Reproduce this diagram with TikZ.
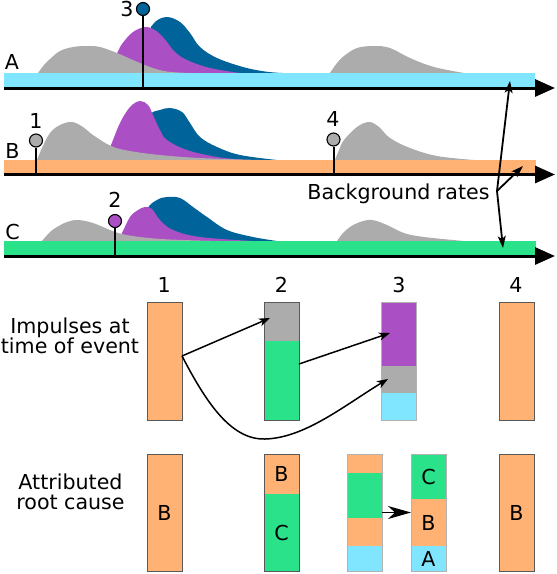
\documentclass[tikz,border=0pt]{standalone}
\usepackage{fontspec}
\setmainfont{DejaVu Sans}
\usetikzlibrary{arrows.meta}
\definecolor{cSky}{HTML}{80E5FF}
\definecolor{cOr}{HTML}{FFB273}
\definecolor{cGr}{HTML}{2AE28A}
\definecolor{cGy}{HTML}{ACACAC}
\definecolor{cPu}{HTML}{AA4FC4}
\definecolor{cBl}{HTML}{00649A}
\tikzset{
  txt/.style={font=\fontsize{20.6}{20}\selectfont, inner sep=0pt},
  dig/.style={font=\fontsize{20.6}{20}\selectfont, inner sep=0pt},
  hump/.style={smooth, tension=0.6},
  axisline/.style={line width=3pt, -{Triangle[length=20pt,width=17pt]}},
  stem/.style={line width=2pt},
  evt/.style={circle, draw=black, line width=1.1pt, minimum size=13pt, inner sep=0pt},
  seg/.style={rectangle, minimum width=35pt, inner sep=0pt, outer sep=0pt, txt},
  barout/.style={rectangle, draw=black!65, line width=0.9pt, minimum width=35pt, inner sep=0pt, outer sep=0pt},
  barlite/.style={barout, draw=black!30},
  conn/.style={line width=1.5pt, -{Stealth[length=11pt,width=8pt,inset=3pt]}},
  bigconn/.style={line width=1.5pt, -{Stealth[length=23pt,width=13pt,inset=7pt]}},
  bgarrow/.style={line width=1.8pt, -{Stealth[length=12pt,width=8pt,inset=3pt]}},
}
\begin{document}
\begin{tikzpicture}[x=1pt,y=-1pt]
\useasboundingbox (0,0) rectangle (557,574);

% ---------- row A humps ----------
\fill[cBl] plot[hump] coordinates {(140,73) (148,35) (155,22) (167,17) (180,22) (190,33) (200,47) (217,58) (243,67) (265,71.5) (282,73)} -- cycle;
\fill[cPu] plot[hump] coordinates {(104,73) (116,55) (122,44) (133,32) (145,27) (153,29) (160,34) (167,42) (175,52) (187,60) (210,68) (240,73)} -- cycle;
\fill[cGy] plot[hump] coordinates {(38,73) (44,65) (50,59) (60,51) (73,47) (87,46) (100,47) (117,53) (133,60) (150,67) (167,71.5) (190,73)} -- cycle;
\fill[cGy] plot[hump] coordinates {(330,73) (337,63) (344,56) (357,48) (374,46) (390,48) (410,58) (434,67) (464,73)} -- cycle;

% ---------- row B humps ----------
\fill[cBl] plot[hump] coordinates {(144,160) (147,130) (151,114) (160,110) (170,108) (182,112) (190,123) (200,137) (217,147) (240,155) (277,160)} -- cycle;
\fill[cPu] plot[hump] coordinates {(104,160) (111,145) (120,123) (130,107) (140,101) (148,105) (153,115) (160,130) (167,140) (187,150) (217,157) (247,160)} -- cycle;
\fill[cGy] plot[hump] coordinates {(37,160) (42,148) (50,133) (60,125) (72,122) (83,127) (93,135) (111,146) (130,151) (160,155) (200,158) (260,160)} -- cycle;
\fill[cGy] plot[hump] coordinates {(335,160) (339,150) (344,140) (357,127) (369,122) (379,127) (390,138) (410,148) (437,156) (474,160)} -- cycle;

% ---------- row C humps ----------
\fill[cBl] plot[hump] coordinates {(140,241) (147,210) (157,200) (167,197) (180,198) (193,207) (207,217) (227,230) (253,237) (277,241)} -- cycle;
\fill[cPu] plot[hump] coordinates {(117,241) (122,233) (130,217) (138,210) (145,207) (152,209) (160,220) (173,230) (200,237) (253,241)} -- cycle;
\fill[cGy] plot[hump] coordinates {(42,241) (50,232) (57,227) (67,222) (78,220) (93,223) (110,230) (122,234) (140,237) (170,239.5) (220,241)} -- cycle;
\fill[cGy] plot[hump] coordinates {(337,241) (343,233) (350,227) (360,222) (372,220) (387,225) (404,233) (424,237) (464,241)} -- cycle;

% ---------- bands ----------
\fill[cSky] (4,73) rectangle (535,88);
\fill[cOr] (4,160) rectangle (536,174.5);
\fill[cGr] (4,241) rectangle (536,256);

% ---------- axes ----------
\coordinate (a0) at (4,88);   \coordinate (a1) at (555,88);
\coordinate (b0) at (4,174.5);\coordinate (b1) at (555,174.5);
\coordinate (c0) at (4,256);  \coordinate (c1) at (555,256);
\draw[axisline] (a0) -- (a1);
\draw[axisline] (b0) -- (b1);
\draw[axisline] (c0) -- (c1);

% row letters
\node[txt, anchor=base] (lA) at (12,69) {A};
\node[txt, anchor=base] (lB) at (12.5,158) {B};
\node[txt, anchor=base] (lC) at (12.5,239) {C};

% ---------- events ----------
\coordinate (e1b) at (36,174.5);
\coordinate (e2b) at (115,256);
\coordinate (e3b) at (143,88);
\coordinate (e4b) at (333.5,174.5);
\node[evt, fill=cGy] (e1) at (36,140.5) {};
\node[evt, fill=cPu] (e2) at (115,221) {};
\node[evt, fill=cBl] (e3) at (143,9) {};
\node[evt, fill=cGy] (e4) at (333.5,139.5) {};
\draw[stem] (e1.south) -- (e1b);
\draw[stem] (e2.south) -- (e2b);
\draw[stem] (e3.south) -- (e3b);
\draw[stem] (e4.south) -- (e4b);
\node[dig, anchor=base] (d1) at (36,128) {1};
\node[dig, anchor=base] (d2) at (115,207) {2};
\node[dig, anchor=base] (d3) at (127,16) {3};
\node[dig, anchor=base] (d4) at (333,126) {4};

% ---------- background rates ----------
\node[txt, anchor=base] (bg) at (398.5,199) {Background rates};
\coordinate (br) at (497,191);
\coordinate (brA) at (510,81);
\coordinate (brB) at (523,166);
\coordinate (brC) at (503,248);
\draw[bgarrow] (br) -- (brA);
\draw[bgarrow] (br) -- (brB);
\draw[bgarrow] (br) -- (brC);

% ---------- impulses row ----------
\node[txt, align=center] (limp) at (70,336) {Impulses at\\time of event};
\node[dig, anchor=base] (h1) at (164.3,292) {1};
\node[dig, anchor=base] (h2) at (281.5,292) {2};
\node[dig, anchor=base] (h3) at (399,292) {3};
\node[dig, anchor=base] (h4) at (516,292) {4};

\node[seg, fill=cOr, minimum height=118pt] (i1s) at (164.5,361) {};
\node[barout, minimum height=118pt] (i1) at (164.5,361) {};

\node[seg, fill=cGy, minimum height=39pt] (i2a) at (281.5,321.5) {};
\node[seg, fill=cGr, minimum height=79pt] (i2b) at (281.5,380.5) {};
\node[barout, minimum height=118pt] (i2) at (281.5,361) {};

\node[seg, fill=cPu, minimum height=64pt] (i3a) at (398.5,334) {};
\node[seg, fill=cGy, minimum height=27pt] (i3b) at (398.5,379.5) {};
\node[seg, fill=cSky, minimum height=27pt] (i3c) at (398.5,406.5) {};
\node[barlite, minimum height=118pt] (i3) at (398.5,361) {};

\node[seg, fill=cOr, minimum height=118pt] (i4s) at (516.5,361) {};
\node[barout, minimum height=118pt] (i4) at (516.5,361) {};

\coordinate (s1) at (182,356);
\coordinate (s2) at (299,364);
\coordinate (t1) at (270,318);
\coordinate (t2) at (390,333);
\coordinate (t3) at (388,379);
\draw[conn] (s1) -- (t1);
\draw[conn] (s2) -- (t2);
\draw[conn] (s1) .. controls (205,400) and (230,440) .. (265,439) .. controls (305,438) and (345,405) .. (t3);

% ---------- attributed row ----------
\node[txt, align=center] (lroot) at (70.5,492.2) {Attributed\\root cause};

\node[seg, fill=cOr, minimum height=117pt] (r1s) at (164.5,512.5) {B};
\node[barout, minimum height=117pt] (r1) at (164.5,512.5) {};

\node[seg, fill=cOr, minimum height=40pt] (r2a) at (281.5,474) {B};
\node[seg, fill=cGr, minimum height=77pt] (r2b) at (281.5,532.5) {C};
\node[barout, minimum height=117pt] (r2) at (281.5,512.5) {};

\node[seg, fill=cOr, minimum height=19pt] (r3a1) at (364.5,463.5) {};
\node[seg, fill=cGr, minimum height=45pt] (r3a2) at (364.5,495.5) {};
\node[seg, fill=cOr, minimum height=28pt] (r3a3) at (364.5,532) {};
\node[seg, fill=cSky, minimum height=25pt] (r3a4) at (364.5,558.5) {};
\node[barlite, minimum height=117pt] (r3a) at (364.5,512.5) {};

\node[seg, fill=cGr, minimum height=45pt] (r3b1) at (428.5,476.5) {C};
\node[seg, fill=cOr, minimum height=47pt] (r3b2) at (428.5,522.5) {B};
\node[seg, fill=cSky, minimum height=25pt] (r3b3) at (428.5,558.5) {A};
\node[barlite, minimum height=117pt] (r3b) at (428.5,512.5) {};

\node[seg, fill=cOr, minimum height=117pt] (r4s) at (516.5,512.5) {B};
\node[barout, minimum height=117pt] (r4) at (516.5,512.5) {};

\draw[bigconn] (r3a.east) -- (r3b.west);
\end{tikzpicture}
\end{document}
